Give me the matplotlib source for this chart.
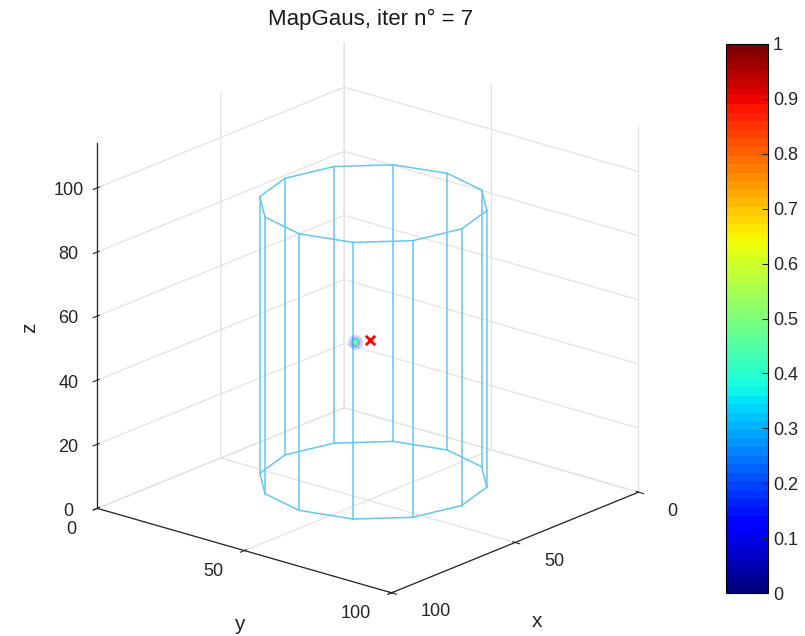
import numpy as np
import matplotlib
matplotlib.use("Agg")
import matplotlib.pyplot as plt
from matplotlib import cm, colors

plt.rcParams['font.family'] = ['Liberation Sans', 'DejaVu Sans']
plt.rcParams['grid.color'] = '#e3e3e3'
plt.rcParams['grid.linewidth'] = 0.9

# --- data ---
title = 'MapGaus, iter n° = 7'
x_lim = [0, 100]
y_lim = [0, 100]
z_lim = [0, 114]
x_ticks = [0, 50, 100]
y_ticks = [0, 50, 100]
z_ticks = [0, 20, 40, 60, 80, 100]

cyl_center = [49, 51]
cyl_radius = 30
cyl_z = [6.2, 92.5]
cyl_sides = 12

# gaussian map blob (points and map values)
blob_x = [53.5, 53.5, 53.5]
blob_y = [48.7, 48.7, 48.7]
blob_z = [50, 50, 50]
blob_v = [0.15, 0.3, 0.5]

# estimated position
est_x = [49.6]
est_y = [50.4]
est_z = [50]

cbar_ticks = [0, 0.1, 0.2, 0.3, 0.4, 0.5, 0.6, 0.7, 0.8, 0.9, 1]
cbar_labels = ['0', '0.1', '0.2', '0.3', '0.4', '0.5', '0.6', '0.7', '0.8', '0.9', '1']

jet = plt.get_cmap('jet', 64)
norm = colors.Normalize(0, 1)
cyl_color = '#66c6f2'
txt = '#262626'

fig = plt.figure(figsize=(8.05, 6.36), dpi=100)
ax = fig.add_axes([0.017, 0.018, 0.86, 0.94], projection='3d', proj_type='ortho')
ax.set_box_aspect((1, 1, 1.012), zoom=1.085)
ax.view_init(elev=20.0, azim=40)

# cylinder wireframe
th = np.linspace(0, 2 * np.pi, cyl_sides + 1)
cx = cyl_center[0] + cyl_radius * np.cos(th)
cy = cyl_center[1] + cyl_radius * np.sin(th)
for z in cyl_z:
    ax.plot(cx, cy, np.full_like(cx, z), color=cyl_color, lw=1.1)
for i in range(cyl_sides):
    ax.plot([cx[i], cx[i]], [cy[i], cy[i]], cyl_z, color=cyl_color, lw=1.1)

# blob
sizes = [110, 45, 12]
alphas = [0.2, 0.45, 0.9]
for i in range(len(blob_v)):
    ax.scatter([blob_x[i]], [blob_y[i]], [blob_z[i]], s=sizes[i], c=[jet(norm(blob_v[i]))],
               alpha=alphas[i], edgecolors='none', depthshade=False)

ax.scatter(est_x, est_y, est_z, marker='x', s=45, c='red', linewidths=2, depthshade=False)

ax.set_xlim(x_lim)
ax.set_ylim(y_lim)
ax.set_zlim(z_lim)
ax.set_xticks(x_ticks)
ax.set_yticks(y_ticks)
ax.set_zticks(z_ticks)
# x / y tick labels placed like matlab does, just outside the floor edges
ax.tick_params(axis='x', labelbottom=False)
ax.tick_params(axis='y', labelleft=False)
for v in x_ticks:
    ax.text(v, y_lim[1] + 9.8, -3.3, str(v), ha='left', va='center', fontsize=13, color=txt)
for v in y_ticks:
    ax.text(x_lim[1] + 8.3, v, -3.9, str(v), ha='right', va='center', fontsize=13, color=txt)

for a in (ax.xaxis, ax.yaxis, ax.zaxis):
    a.pane.fill = False
    a.pane.set_edgecolor('none')
    a.line.set_color(txt)
    a.line.set_linewidth(0.9)
ax.tick_params(axis='z', labelsize=13, colors=txt, pad=4)
ax.tick_params(axis='x', colors=txt)
ax.tick_params(axis='y', colors=txt)
for lab in ax.get_zticklabels():
    lab.set_va('center_baseline')

ax.zaxis.set_rotate_label(False)
ax.set_zlabel('z', fontsize=15, color=txt, labelpad=7, rotation=90)
ax.text(50, y_lim[1] + 7.3, -22.8, 'x', ha='center', va='center', fontsize=15, color=txt)
ax.text(x_lim[1] + 2, 50, -22.5, 'y', ha='center', va='center', fontsize=15, color=txt)
fig.text(0.46, 0.969, title, ha='center', va='center', fontsize=16, color='#1a1a1a')

cax = fig.add_axes([726 / 805, 43 / 636, 42 / 805, 549 / 636])
cb = fig.colorbar(cm.ScalarMappable(norm=norm, cmap=jet), cax=cax, ticks=cbar_ticks)
cb.ax.set_yticklabels(cbar_labels)
cb.ax.tick_params(direction='in', length=4, labelsize=13, colors=txt)
cb.outline.set_linewidth(0.8)

# unused (empty) labels / offset texts off
for a in (ax.xaxis, ax.yaxis, ax.zaxis, cax.xaxis, cax.yaxis):
    a.offsetText.set_visible(False)
    if a.label.get_text() == '':
        a.label.set_visible(False)
ax.title.set_visible(False)
cax.title.set_visible(False)

fig.savefig('out.png', dpi=100)
